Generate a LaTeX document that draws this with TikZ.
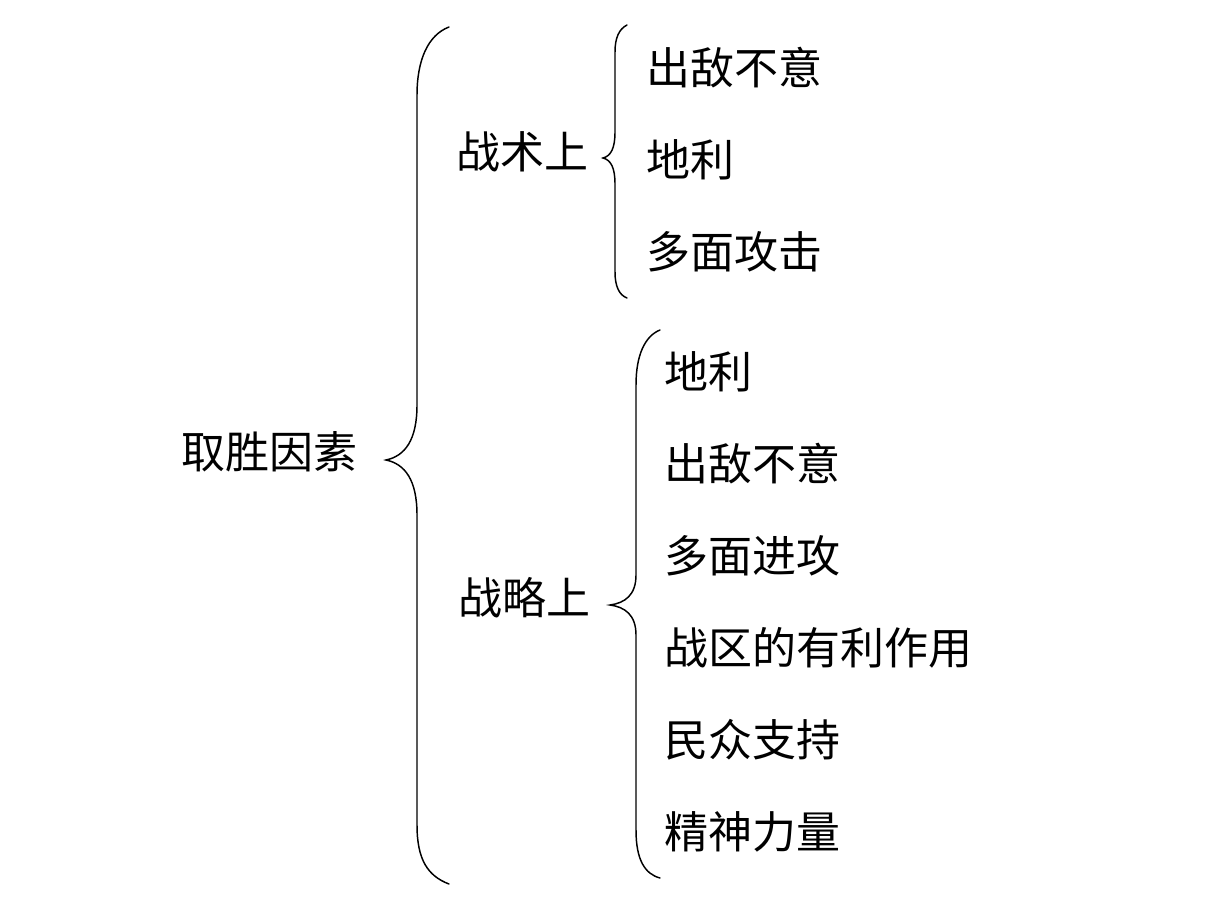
\documentclass[tikz,border=0pt]{standalone}
\usepackage{fontspec}
\setmainfont{Noto Sans CJK SC}
\begin{document}
\begin{tikzpicture}[x=0.75pt,y=-0.75pt,
  lbl/.style={anchor=west,inner sep=0pt,font=\fontsize{33}{33}\selectfont},
  brace/.style={line width=1.1pt,line cap=round}]
\useasboundingbox (0,0) rectangle (1226,916);
\node[lbl] (root) at (181,452) {取胜因素};
\node[lbl] (tac) at (456,152) {战术上};
\node[lbl] (str) at (458,598) {战略上};
\node[lbl] (a1) at (646,68) {出敌不意};
\node[lbl] (a2) at (646,160) {地利};
\node[lbl] (a3) at (646,252) {多面攻击};
\node[lbl] (b1) at (664,372) {地利};
\node[lbl] (b2) at (664,464) {出敌不意};
\node[lbl] (b3) at (664,556) {多面进攻};
\node[lbl] (b4) at (664,648) {战区的有利作用};
\node[lbl] (b5) at (664,740) {民众支持};
\node[lbl] (b6) at (664,832) {精神力量};
% big brace
\draw[brace] (449,27) .. controls (428,35) and (417,60) .. (417,95)
  -- (417,405) .. controls (417,440) and (405,456) .. (386,460)
  .. controls (405,464) and (417,480) .. (417,515)
  -- (417,825) .. controls (417,860) and (428,876) .. (449,884);
% tactic brace
\draw[brace] (627,25) .. controls (619,29) and (615,38) .. (615,52)
  -- (615,132) .. controls (615,148) and (611,156) .. (603,158)
  .. controls (611,160) and (615,168) .. (615,184)
  -- (615,272) .. controls (615,286) and (619,295) .. (627,298);
% strategy brace
\draw[brace] (660,330) .. controls (645,336) and (636,355) .. (636,385)
  -- (636,575) .. controls (636,595) and (625,603) .. (610,605)
  .. controls (625,607) and (636,615) .. (636,635)
  -- (636,830) .. controls (636,860) and (645,874) .. (660,878);
\end{tikzpicture}
\end{document}
